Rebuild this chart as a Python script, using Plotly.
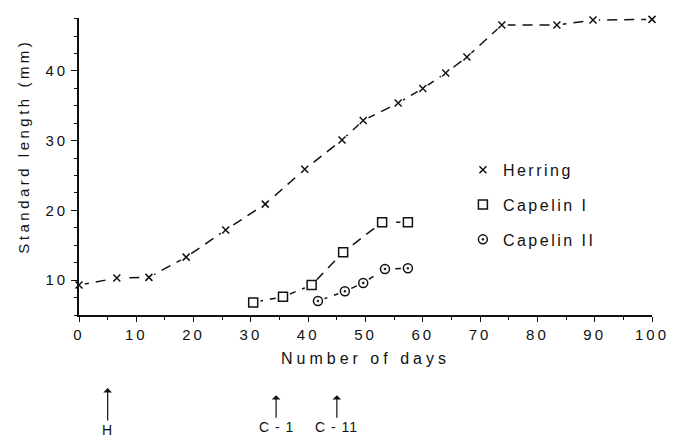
import plotly.graph_objects as go

# ---- data ----
herring_days = [0, 6.6, 12.2, 18.7, 25.6, 32.5, 39.4, 45.9, 49.6, 55.7, 60.0, 64.0, 67.7, 73.8, 83.4, 89.7, 100]
herring_len = [9.3, 10.3, 10.4, 13.3, 17.2, 20.9, 25.9, 30.1, 32.9, 35.4, 37.5, 39.7, 42.0, 46.6, 46.6, 47.3, 47.4]

capelin1_days = [30.4, 35.6, 40.6, 46.1, 52.9, 57.4]
capelin1_len = [6.8, 7.6, 9.3, 14.0, 18.3, 18.3]

capelin2_days = [41.7, 46.4, 49.6, 53.4, 57.4]
capelin2_len = [7.0, 8.4, 9.6, 11.6, 11.7]

x_ticks = [0, 10, 20, 30, 40, 50, 60, 70, 80, 90, 100]
y_ticks = [10, 20, 30, 40]

event_days = [5, 34.4, 45]
event_labels = ["H", "C - 1", "C - 11"]

FONT = "Liberation Sans, Arial, sans-serif"
INK = "#111111"


def spaced(t, px=2):
    return f"<span style='letter-spacing:{px}px'>{t}</span>"


fig = go.Figure()

series = [
    ("Herring", herring_days, herring_len, "x-thin-open", 7, 12),
    ("Capelin I", capelin1_days, capelin1_len, "square-open", 9, 15),
    ("Capelin II", capelin2_days, capelin2_len, "circle-open-dot", 9, 14),
]

for i, (name, xs, ys, sym, size, halo) in enumerate(series):
    fig.add_trace(go.Scatter(x=xs, y=ys, mode="lines", showlegend=False,
                             line=dict(color=INK, width=1.5, dash="10px,7px"),
                             cliponaxis=False, hoverinfo="skip"))
    fig.add_trace(go.Scatter(x=xs, y=ys, mode="markers", showlegend=False,
                             marker=dict(symbol="circle", size=halo, color="white"),
                             cliponaxis=False, hoverinfo="skip"))
    fig.add_trace(go.Scatter(x=xs, y=ys, mode="markers", name=spaced(name, 2.5),
                             legendgroup=f"g{i}",
                             marker=dict(symbol=sym, size=size, color=INK,
                                         line=dict(color=INK, width=1.5)),
                             cliponaxis=False))

for d, lab in zip(event_days, event_labels):
    tip = -0.246 if lab == "H" else -0.27
    ay = 42 if lab == "H" else 32
    fig.add_annotation(x=d, xref="x", y=tip, yref="paper", text=spaced(lab, 1),
                       showarrow=True, ax=0, ay=ay, arrowhead=1, arrowsize=1.2,
                       arrowwidth=1.2, arrowcolor=INK,
                       font=dict(family=FONT, size=14, color=INK))

# axis titles
fig.add_annotation(x=-0.096, xref="paper", y=0.57, yref="paper",
                   xanchor="center", yanchor="middle",
                   text=spaced("Standard length (mm)", 3.5), textangle=-90,
                   showarrow=False, font=dict(family=FONT, size=15, color=INK))
fig.add_annotation(x=0.5, xref="paper", y=-0.147, yref="paper",
                   xanchor="center", yanchor="middle",
                   text=spaced("Number of days", 4),
                   showarrow=False, font=dict(family=FONT, size=16, color=INK))

fig.update_xaxes(range=[0, 100], tickvals=x_ticks,
                 ticktext=[spaced(str(v), 3) for v in x_ticks],
                 ticks="outside", ticklen=5, tickwidth=1.3, tickcolor=INK,
                 minor=dict(dtick=5, ticks="outside", ticklen=3, tickcolor=INK, tickwidth=1.2),
                 showline=True, linewidth=1.6, linecolor=INK, showgrid=False, zeroline=False,
                 automargin=False,
                 tickfont=dict(family=FONT, size=15, color=INK))
fig.update_yaxes(range=[5, 47.6], tickvals=y_ticks,
                 ticktext=[spaced(str(v), 3) for v in y_ticks],
                 ticks="outside", ticklen=6, tickwidth=1.3, tickcolor=INK,
                 minor=dict(dtick=2.5, ticks="outside", ticklen=3, tickcolor=INK, tickwidth=1.2),
                 showline=True, linewidth=1.6, linecolor=INK, showgrid=False, zeroline=False,
                 automargin=False,
                 tickfont=dict(family=FONT, size=15, color=INK))

fig.update_layout(width=673, height=439, paper_bgcolor="white", plot_bgcolor="white",
                  margin=dict(l=79, r=21, t=18, b=124),
                  font=dict(family=FONT, size=14, color=INK),
                  legend=dict(x=0.67, y=0.546, xanchor="left", yanchor="top",
                              bgcolor="rgba(0,0,0,0)", tracegroupgap=11,
                              traceorder="grouped",
                              font=dict(family=FONT, size=16, color=INK)),
                  showlegend=True)

fig.write_html("out.html", config={"displayModeBar": False},
               post_script="document.body.style.margin='0';document.body.style.overflow='hidden';")
